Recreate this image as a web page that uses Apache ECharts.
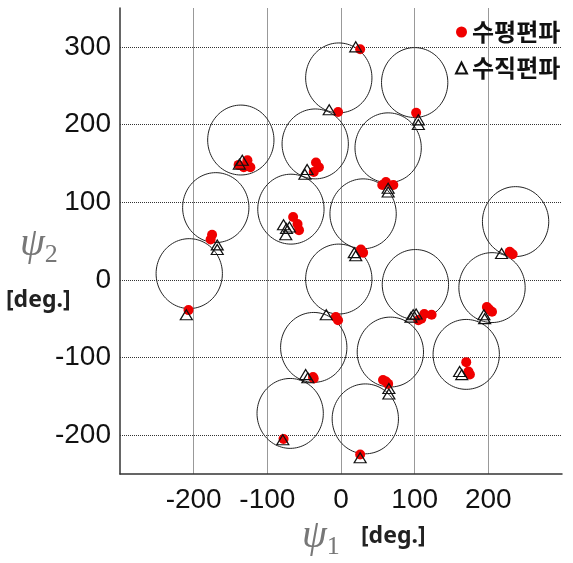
<!DOCTYPE html>
<html>
<head>
<meta charset="utf-8">
<script src="https://cdn.jsdelivr.net/npm/echarts@6/dist/echarts.min.js"></script>
<style>
html,body{margin:0;padding:0;background:#fff;}
#c{width:573px;height:563px;}
</style>
</head>
<body>
<div id="c"></div>
<script>
// Circle centres (deg.)
const circleX = [-3, 100, -136, -35, 64, -170, -68, 30, 237, -206, -3, 101, 205, -37, 67, 170, -69, 33];
const circleY = [260, 254, 180, 175, 170, 93, 91, 85, 75, 8, 1, -6, -10, -87, -93, -96, -172, -179];
const circleRadius = 45;

// 수평편파 (horizontal polarisation) points
const hPolX = [26, -4, 102, -139, -127, -123, -132, -34, -37, -30, 61, 71, 56, -175, -177, -65, -59, -57, 27, 30, 229, 233, -207, -7, -4, 113, 123, 105, 109, 198, 205, 201, -37, -38, 57, 61, 64, 170, 175, 173, -78, 26];
const hPolY = [297, 216, 215, 148, 154, 145, 145, 151, 139, 145, 126, 122, 122, 58, 52, 81, 72, 64, 39, 35, 36, 33, -39, -48, -52, -44, -45, -52, -50, -35, -41, -38, -127, -125, -129, -131, -134, -106, -122, -118, -205, -225];

// 수직편파 (vertical polarisation) points
const vPolX = [20, -16, 105, 105, -134, -138, -46, -49, 64, 64, -168, -168, -78, -74, -75, -70, 18, 20, 218, -210, -20, 98, 102, 95, 194, 195, -48, -45, 65, 65, 161, 164, -79, 26];
const vPolY = [300, 219, 206, 200, 154, 149, 142, 136, 118, 113, 45, 39, 71, 66, 58, 68, 35, 31, 34, -45, -45, -45, -44, -48, -45, -50, -122, -126, -140, -147, -118, -122, -206, -229];

const xTicks = [-200, -100, 0, 100, 200];
const yTicks = [-200, -100, 0, 100, 200, 300];

const seriesNames = ['수평편파', '수직편파'];

const circleData = circleX.map((x, i) => [x, circleY[i]]);
const hData = hPolX.map((x, i) => [x, hPolY[i]]);
const vData = vPolX.map((x, i) => [x, vPolY[i]]);

const chart = echarts.init(document.getElementById('c'), null, {renderer: 'canvas'});

const tickFont = {fontFamily: 'Liberation Sans, Arial, sans-serif', fontSize: 28, color: '#111'};

chart.setOption({
  animation: false,
  backgroundColor: '#fff',
  grid: {left: 120, top: 8, right: 11, bottom: 89, containLabel: false},
  xAxis: {
    type: 'value', min: -300, max: 300, interval: 100,
    axisLine: {show: true, onZero: false, lineStyle: {color: '#333', width: 1.5}},
    axisTick: {show: false},
    axisLabel: Object.assign({margin: 12, formatter: v => xTicks.includes(v) ? String(v) : ''}, tickFont),
    splitLine: {show: true, showMinLine: false, showMaxLine: false, lineStyle: {color: '#999', width: 1, type: 'solid'}}
  },
  yAxis: {
    type: 'value', min: -250, max: 350, splitNumber: 6,
    axisLine: {show: true, onZero: false, lineStyle: {color: '#333', width: 1.5}},
    axisTick: {show: false},
    axisLabel: Object.assign({margin: 9, showMinLabel: false, showMaxLabel: false, formatter: v => yTicks.includes(v) ? String(v) : ''}, tickFont),
    splitLine: {show: true, showMinLine: false, showMaxLine: false, lineStyle: {color: '#333', width: 1, type: [1, 1]}}
  },
  legend: {
    show: true, orient: 'vertical', left: 450, top: 15,
    itemWidth: 11, itemHeight: 11, itemGap: 12,
    data: seriesNames,
    textStyle: {fontFamily: 'Noto Sans CJK KR, sans-serif', fontSize: 24, fontWeight: 'bold', color: '#111', padding: [0, 0, 0, 0]}
  },
  graphic: [
    {type: 'text', left: 20, top: 224, style: {
      rich: {
        a: {fontFamily: 'Liberation Serif, serif', fontStyle: 'italic', fontSize: 40, fill: '#777'},
        b: {fontFamily: 'Liberation Serif, serif', fontSize: 26, fill: '#777', padding: [22, 0, 0, 0]}
      }, text: '{a|ψ}{b|2}'}},
    {type: 'text', left: 6, top: 289, style: {text: '[deg.]', fontFamily: 'Noto Sans, sans-serif', fontWeight: 'bold', fontSize: 23, fill: '#222'}},
    {type: 'text', left: 302, top: 516, style: {
      rich: {
        a: {fontFamily: 'Liberation Serif, serif', fontStyle: 'italic', fontSize: 40, fill: '#777'},
        b: {fontFamily: 'Liberation Serif, serif', fontSize: 26, fill: '#777', padding: [22, 0, 0, 0]}
      }, text: '{a|ψ}{b|1}'}},
    {type: 'text', left: 361, top: 525, style: {text: '[deg.]', fontFamily: 'Noto Sans, sans-serif', fontWeight: 'bold', fontSize: 23, fill: '#222'}}
  ],
  series: [
    {
      type: 'custom', name: 'circles', z: 1,
      data: circleData,
      renderItem: function (params, api) {
        const cx = api.value(0), cy = api.value(1);
        const pts = [];
        const n = 96;
        for (let k = 0; k <= n; k++) {
          const t = (k / n) * Math.PI * 2;
          pts.push(api.coord([cx + circleRadius * Math.cos(t), cy + circleRadius * Math.sin(t)]));
        }
        return {type: 'polyline', shape: {points: pts}, style: {stroke: '#222', lineWidth: 1, fill: null}};
      },
      silent: true
    },
    {
      type: 'scatter', name: seriesNames[0], z: 3,
      data: hData, symbol: 'circle', symbolSize: 10,
      itemStyle: {color: '#f00000', opacity: 1}
    },
    {
      type: 'scatter', name: seriesNames[1], z: 4,
      data: vData, symbol: 'triangle', symbolSize: [12, 10],
      itemStyle: {color: 'rgba(255,255,255,0)', borderColor: '#111', borderWidth: 1.2, opacity: 1}
    }
  ]
});
</script>
</body>
</html>
